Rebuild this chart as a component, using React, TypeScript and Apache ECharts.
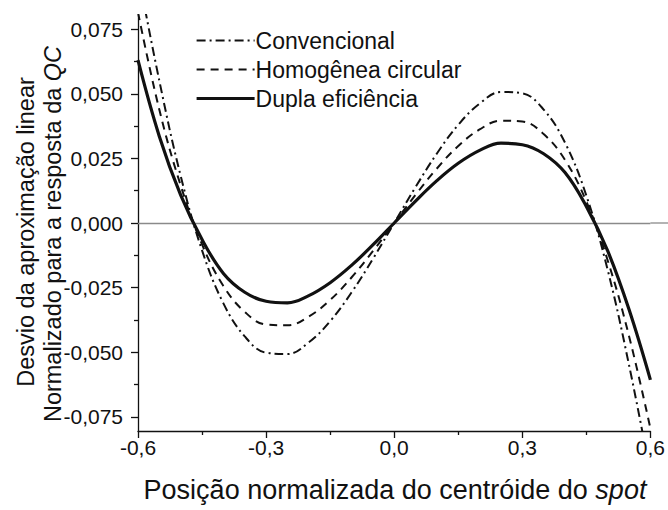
import React, { useEffect, useRef } from 'react';
import * as echarts from 'echarts';

const xValues = [-0.6, -0.55, -0.5, -0.45, -0.4, -0.35, -0.3, -0.25, -0.2, -0.15, -0.1, -0.05, 0, 0.05, 0.1, 0.15, 0.2, 0.25, 0.3, 0.35, 0.4, 0.45, 0.5, 0.55, 0.6];
const convencional = [0.097, 0.055, 0.0182, -0.0106, -0.0311, -0.0439, -0.0502, -0.0507, -0.0462, -0.038, -0.0269, -0.0139, 0, 0.0139, 0.0269, 0.038, 0.0462, 0.0507, 0.0502, 0.0439, 0.0311, 0.0106, -0.0182, -0.055, -0.097];
const homogenea = [0.0815, 0.0438, 0.0145, -0.0083, -0.0244, -0.0344, -0.0393, -0.0396, -0.0362, -0.0298, -0.0211, -0.0109, 0, 0.0109, 0.0211, 0.0298, 0.0362, 0.0396, 0.0393, 0.0344, 0.0244, 0.0083, -0.0145, -0.0438, -0.0795];
const dupla = [0.063, 0.0335, 0.0108, -0.0064, -0.0195, -0.0268, -0.0303, -0.0309, -0.0281, -0.0231, -0.0164, -0.0085, 0, 0.0085, 0.0164, 0.0231, 0.0281, 0.0309, 0.0303, 0.0268, 0.0195, 0.0064, -0.0108, -0.0335, -0.0607];
const seriesNames = ['Convencional', 'Homogênea circular', 'Dupla eficiência'];
const yTickValues = [-0.075, -0.05, -0.025, 0, 0.025, 0.05, 0.075];
const yMinorTickValues = [-0.0625, -0.0375, -0.0125, 0.0125, 0.0375, 0.0625];
const xMin = -0.6;
const xMax = 0.6;
const xInterval = 0.3;
const yMin = -0.0805;
const yMax = 0.0805;

const FONT = '"Liberation Sans", Arial, sans-serif';
const INK = '#111';

const pair = (ys: number[]) => xValues.map((x, i) => [x, ys[i]]);
const fmt = (v: number, d: number) => {
  const val = Math.abs(v) < 1e-9 ? 0 : v;
  return val.toFixed(d).replace('.', ',');
};

export default function App() {
  const ref = useRef<HTMLDivElement>(null);
  useEffect(() => {
    if (!ref.current) return;
    const chart = echarts.init(ref.current, undefined, { renderer: 'svg' });
    const axisLine = { show: true, onZero: false, lineStyle: { color: INK, width: 1.3 } };
    const option: any = {
      animation: false,
      backgroundColor: '#fff',
      grid: { left: 138, right: 15, top: 15, bottom: 79, containLabel: false },
      legend: {
        orient: 'vertical',
        left: 190,
        top: 24,
        itemWidth: 58,
        itemHeight: 14,
        itemGap: 6,
        itemStyle: { opacity: 0, borderWidth: 0 },
        lineStyle: { width: 'inherit' },
        textStyle: { fontSize: 23, fontFamily: FONT, color: INK, padding: [0, 0, 0, -4] },
        data: seriesNames,
      },
      xAxis: {
        type: 'value',
        min: xMin,
        max: xMax,
        interval: xInterval,
        axisLine,
        axisTick: { show: true, length: 7, lineStyle: { color: INK, width: 1.3 } },
        minorTick: { show: true, splitNumber: 2, length: 4, lineStyle: { color: INK, width: 1.3 } },
        splitLine: { show: false },
        minorSplitLine: { show: false },
        axisLabel: { fontSize: 21, fontFamily: FONT, color: INK, margin: 6, formatter: (v: number) => fmt(v, 1) },
      },
      yAxis: [
        {
          type: 'value',
          min: yMin,
          max: yMax,
          axisLine,
          axisTick: { show: true, length: 7, customValues: yTickValues, lineStyle: { color: INK, width: 1.3 } },
          splitLine: { show: false },
          axisLabel: { fontSize: 21, fontFamily: FONT, color: INK, margin: 15, customValues: yTickValues, formatter: (v: number) => fmt(v, 3) },
        },
        {
          type: 'value',
          min: yMin,
          max: yMax,
          position: 'left',
          axisLine: { show: false, onZero: false },
          axisTick: { show: true, length: 4, customValues: yMinorTickValues, lineStyle: { color: INK, width: 1.3 } },
          splitLine: { show: false },
          axisLabel: { show: false },
        },
      ],
      series: [
        {
          name: seriesNames[0],
          type: 'line',
          data: pair(convencional),
          smooth: 0.4,
          symbol: 'none',
          clip: true,
          lineStyle: { color: INK, width: 2, type: [9, 4, 2, 4] },
          itemStyle: { color: INK },
          z: 3,
        },
        {
          name: seriesNames[1],
          type: 'line',
          data: pair(homogenea),
          smooth: 0.4,
          symbol: 'none',
          clip: true,
          lineStyle: { color: INK, width: 2, type: [8, 6] },
          itemStyle: { color: INK },
          z: 3,
        },
        {
          name: seriesNames[2],
          type: 'line',
          data: pair(dupla),
          smooth: 0.4,
          symbol: 'none',
          clip: true,
          lineStyle: { color: INK, width: 3.2, type: 'solid' },
          itemStyle: { color: INK },
          z: 4,
          markLine: {
            silent: true,
            symbol: ['none', 'none'],
            label: { show: false },
            lineStyle: { color: '#8a8a8a', width: 1.3, type: 'solid' },
            data: [{ yAxis: 0 }],
            z: 1,
          },
        },
      ],
      graphic: [
        {
          type: 'text',
          x: 26,
          y: 232,
          rotation: Math.PI / 2,
          style: {
            text: 'Desvio da aproximação linear',
            font: `23.5px ${FONT}`,
            fill: INK,
            align: 'center',
            verticalAlign: 'middle',
          },
        },
        {
          type: 'text',
          x: 53,
          y: 234,
          rotation: Math.PI / 2,
          style: {
            text: '{n|Normalizado para a resposta da }{i|QC}',
            align: 'center',
            verticalAlign: 'middle',
            fill: INK,
            rich: {
              n: { fontSize: 23.5, fontFamily: FONT, color: INK },
              i: { fontSize: 23.5, fontFamily: FONT, color: INK, fontStyle: 'italic' },
            },
          },
        },
        {
          type: 'text',
          x: 395,
          y: 490,
          style: {
            text: '{n|Posição normalizada do centróide do }{i|spot}',
            align: 'center',
            verticalAlign: 'middle',
            fill: INK,
            rich: {
              n: { fontSize: 27, fontFamily: FONT, color: INK },
              i: { fontSize: 27, fontFamily: FONT, color: INK, fontStyle: 'italic' },
            },
          },
        },
      ],
    };
    chart.setOption(option);
    const zeroEnd = chart.convertToPixel({ gridIndex: 0 }, [xMax, 0]) as number[];
    if (zeroEnd) {
      chart.setOption({
        graphic: [
          ...option.graphic,
          {
            type: 'line',
            silent: true,
            shape: { x1: zeroEnd[0], y1: zeroEnd[1], x2: 668, y2: zeroEnd[1] },
            style: { stroke: '#8a8a8a', lineWidth: 1.3 },
          },
        ],
      });
    }
    return () => chart.dispose();
  }, []);
  return <div ref={ref} style={{ width: 668, height: 510, position: 'absolute', left: 0, top: 0 }} />;
}
